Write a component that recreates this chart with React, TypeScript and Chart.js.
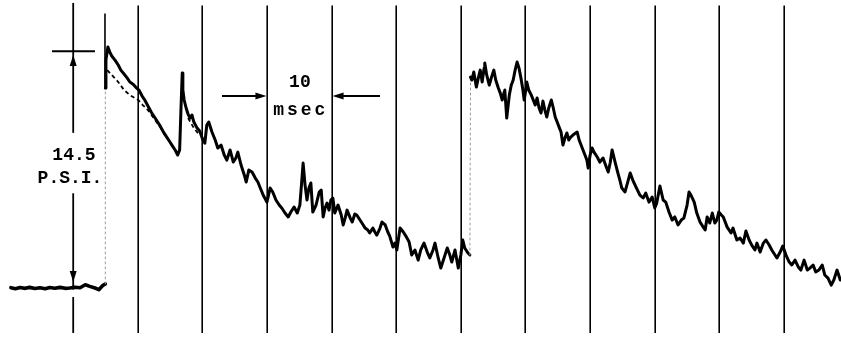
import { useEffect, useRef } from 'react';
import { Chart, registerables } from 'chart.js';

Chart.register(...registerables);

// ---- data (time in msec, pressure in P.S.I. above the baseline) ----
const baselineTimes = [-9.6, -8.9, -8.2, -7.4, -6.7, -5.9, -5.1, -4.3, -3.6, -2.8, -2.0, -1.2, -0.5, 0.3, 1.1, 1.9, 2.6, 3.4, 4.0, 4.6, 5.0];
const baselinePsi = [0.02, -0.04, 0.03, -0.02, 0.04, -0.03, 0.02, -0.04, 0.03, -0.01, 0.04, -0.02, 0.0, 0.05, 0.02, 0.2, 0.1, 0.0, -0.1, 0.15, 0.25];

const firstPulseTimes = [
  5.0, 5.1, 5.4, 5.7, 6.0, 6.5, 7.0, 7.4, 7.9, 8.4, 8.8, 9.3, 9.7, 10.2, 10.7, 11.1, 11.6, 12.1, 12.5, 13.0,
  13.5, 13.9, 14.4, 14.9, 15.3, 15.8, 16.2, 16.5, 16.7, 16.9, 17.0, 17.2, 17.5, 17.8, 18.1, 18.4, 18.7, 19.2, 19.6, 20.1,
  20.4, 20.7, 21.0, 21.5, 22.0, 22.4, 22.9, 23.4, 23.8, 24.3, 24.8, 25.2, 25.5, 26.0, 26.5, 26.8, 27.2, 27.7, 28.2, 28.6,
  29.1, 29.5, 30.0, 30.5, 30.9, 31.4, 31.9, 32.3, 32.8, 33.3, 33.7, 34.2, 34.7, 35.1, 35.4, 35.6, 35.9, 36.2, 36.5, 36.8,
  37.1, 37.6, 38.1, 38.4, 38.7, 39.0, 39.3, 39.6, 39.9, 40.2, 40.5, 41.0, 41.5, 41.8, 42.1, 42.4, 42.9, 43.2, 43.6, 43.9,
  44.4, 44.7, 45.2, 45.6, 45.9, 46.4, 46.7, 47.0, 47.5, 47.8, 48.3, 48.7, 49.0, 49.5, 49.8, 50.1, 50.6, 51.1, 51.5, 52.0,
  52.4, 52.9, 53.4, 53.8, 54.3, 54.8, 55.2, 55.7, 56.0, 56.5, 56.9, 57.4, 57.9, 58.3, 58.6, 59.1, 59.6, 60.0, 60.3, 60.6,
  61.1, 61.4,
];
const firstPulsePsi = [
  12.24, 13.95, 14.75, 14.44, 14.2, 13.95, 13.65, 13.34, 13.1, 12.85, 12.61, 12.48, 12.3, 12.12, 11.75, 11.51, 11.14, 10.77, 10.53, 10.22,
  9.91, 9.61, 9.3, 9.0, 8.75, 8.45, 8.14, 8.45, 10.89, 13.16, 12.12, 11.51, 11.02, 10.65, 10.4, 10.59, 10.16, 9.79, 9.61, 9.06,
  8.87, 9.98, 10.16, 9.55, 9.06, 8.57, 8.75, 8.14, 7.83, 8.45, 7.71, 7.96, 8.32, 7.53, 6.92, 6.49, 7.22, 7.1, 6.73, 6.49,
  6.0, 5.63, 5.26, 6.12, 5.88, 5.39, 5.08, 4.9, 4.59, 4.35, 4.65, 4.96, 4.59, 5.08, 6.61, 7.65, 6.3, 5.39, 6.12, 6.43,
  4.65, 5.08, 5.88, 6.0, 4.35, 4.9, 5.2, 4.77, 5.39, 5.51, 4.59, 5.08, 4.47, 3.86, 4.28, 4.77, 4.28, 4.04, 4.53, 4.47,
  4.16, 3.98, 3.67, 3.55, 3.37, 3.67, 3.43, 3.24, 3.67, 4.04, 3.86, 3.43, 3.18, 2.51, 2.75, 2.33, 3.67, 3.43, 3.18, 2.82,
  2.02, 2.33, 1.71, 2.33, 2.75, 2.2, 1.84, 2.33, 2.75, 1.84, 1.22, 1.84, 2.45, 2.02, 1.59, 2.33, 1.22, 2.02, 2.94, 2.45,
  2.14, 2.02,
];

const secondPulseTimes = [
  61.5, 61.7, 62.0, 62.4, 62.7, 63.0, 63.3, 63.6, 63.7, 64.0, 64.4, 64.7, 65.1, 65.4, 65.8, 66.1, 66.4, 66.7, 66.8, 67.1,
  67.5, 67.8, 68.1, 68.4, 68.7, 69.0, 69.3, 69.6, 69.8, 70.1, 70.2, 70.5, 70.9, 71.2, 71.5, 71.8, 72.1, 72.4, 72.7, 73.0,
  73.3, 73.6, 74.0, 74.3, 74.6, 74.9, 75.2, 75.5, 75.8, 76.1, 76.4, 76.7, 77.0, 77.5, 78.0, 78.3, 78.6, 78.9, 79.2, 79.5,
  79.7, 80.0, 80.3, 80.6, 81.1, 81.5, 82.0, 82.5, 82.8, 83.1, 83.4, 83.9, 84.3, 84.6, 84.9, 85.4, 85.9, 86.2, 86.6, 87.1,
  87.7, 88.2, 88.6, 89.1, 89.6, 90.0, 90.3, 90.8, 91.3, 91.7, 92.2, 92.7, 93.1, 93.6, 94.1, 94.5, 95.0, 95.3, 95.6, 96.1,
  96.5, 97.0, 97.5, 97.8, 98.1, 98.5, 98.9, 99.3, 99.6, 99.9, 100.3, 100.6, 101.2, 101.8, 102.1, 102.7, 103.2, 103.7, 104.1, 104.6,
  105.0, 105.5, 105.8, 106.3, 106.8, 107.2, 107.7, 108.1, 108.6, 108.9, 109.4, 109.8, 110.3, 110.8, 111.2, 111.7, 112.2, 112.6, 113.1, 113.6,
  114.0, 114.5, 114.9, 115.4, 115.9, 116.3, 116.8, 117.3, 117.7, 118.2, 118.7,
];
const secondPulsePsi = [
  12.91, 12.73, 13.22, 12.3, 12.85, 13.34, 12.61, 13.46, 13.77, 13.04, 12.42, 12.85, 13.34, 12.73, 12.24, 11.93, 11.51, 12.0, 12.12, 10.4,
  11.81, 12.42, 12.73, 13.34, 13.83, 13.46, 12.85, 12.12, 11.51, 12.24, 12.61, 12.12, 11.81, 11.51, 11.2, 11.63, 11.02, 10.71, 11.44, 10.89,
  10.47, 11.02, 11.51, 11.02, 10.47, 10.16, 9.85, 9.55, 8.75, 9.18, 9.49, 9.06, 9.24, 9.42, 9.55, 9.06, 8.75, 8.45, 8.14, 7.83,
  7.34, 8.14, 8.57, 8.32, 8.02, 7.71, 7.96, 7.41, 7.1, 7.65, 8.45, 7.65, 7.04, 6.61, 6.12, 5.88, 6.61, 7.04, 6.61, 6.18,
  5.69, 5.51, 5.81, 5.26, 5.57, 4.9, 5.2, 6.24, 5.39, 5.26, 4.65, 4.16, 4.35, 3.86, 4.16, 4.28, 5.08, 5.88, 5.69, 5.26,
  4.59, 4.04, 3.73, 3.55, 4.35, 3.98, 4.59, 3.98, 4.16, 4.65, 4.47, 4.35, 3.73, 3.37, 3.67, 2.94, 3.06, 2.75, 3.49, 2.94,
  2.63, 2.33, 2.75, 2.2, 2.75, 2.94, 2.63, 2.33, 2.02, 1.84, 2.2, 2.57, 2.02, 1.59, 1.41, 1.71, 1.29, 1.1, 1.71, 1.1,
  1.22, 1.41, 0.98, 1.1, 1.41, 0.8, 0.61, 0.18, 0.49, 1.1, 0.49,
];

// faint second (dashed) trace of the first pulse
const ghostTimes = [5.3, 6.0, 7.0, 7.9, 8.8, 10.1, 10.8, 11.6, 12.7, 13.5, 14.2, 15.0, 15.8, null, 17.8, 18.7, 19.6];
const ghostPsi = [13.34, 13.04, 12.61, 12.12, 11.81, 11.51, 11.2, 10.89, 10.28, 9.85, 9.36, 8.94, 8.45, null, 10.4, 9.79, 9.36];

// sweep-start mark
const sweepMarkTimes = [4.95, 4.95];
const sweepMarkPsi = [16.8, 12.2];

// 10 msec timing lines
const timingMarksMs = [10, 20, 30, 40, 50, 60, 70, 80, 90, 100, 110];
const psiSpan = 14.5;
const psiLabel = ['14.5', 'P.S.I.'];
const timeLabel = ['10', 'msec'];

const toPoints = (xs: (number | null)[], ys: (number | null)[]) =>
  xs.map((x, i) => ({ x: x as number, y: ys[i] as number }));

const X_MIN = -11.29;
const X_MAX = 118.81;
const Y_MIN = -3.12;
const Y_MAX = 17.63;

const MARK_TOP = 17.3;
const MARK_BOTTOM = -2.75;

function arrowHead(ctx: CanvasRenderingContext2D, x: number, y: number, dir: string, len = 10, half = 3.5) {
  ctx.beginPath();
  ctx.moveTo(x, y);
  if (dir === 'up') { ctx.lineTo(x - half, y + len); ctx.lineTo(x + half, y + len); }
  if (dir === 'down') { ctx.lineTo(x - half, y - len); ctx.lineTo(x + half, y - len); }
  if (dir === 'right') { ctx.lineTo(x - len, y - half); ctx.lineTo(x - len, y + half); }
  if (dir === 'left') { ctx.lineTo(x + len, y - half); ctx.lineTo(x + len, y + half); }
  ctx.closePath();
  ctx.fill();
}

function seg(ctx: CanvasRenderingContext2D, x1: number, y1: number, x2: number, y2: number) {
  ctx.beginPath();
  ctx.moveTo(x1, y1);
  ctx.lineTo(x2, y2);
  ctx.stroke();
}

const gridPlugin = {
  id: 'timingLines',
  beforeDatasetsDraw(chart: any) {
    const { ctx, scales } = chart;
    const x = scales.x, y = scales.y;
    ctx.save();
    ctx.strokeStyle = '#000';
    ctx.lineWidth = 1.6;
    timingMarksMs.forEach((t) => {
      const px = Math.round(x.getPixelForValue(t)) + 0.2;
      seg(ctx, px, y.getPixelForValue(MARK_TOP), px, y.getPixelForValue(MARK_BOTTOM));
    });
    // P.S.I. scale line at t = 0 with gap for the label
    const p0 = Math.round(x.getPixelForValue(0)) + 0.2;
    ctx.lineWidth = 1.8;
    seg(ctx, p0, y.getPixelForValue(17.45), p0, y.getPixelForValue(9.5));
    seg(ctx, p0, y.getPixelForValue(5.8), p0, y.getPixelForValue(-0.1));
    seg(ctx, p0, y.getPixelForValue(-0.55), p0, y.getPixelForValue(MARK_BOTTOM));
    ctx.restore();
  },
  afterDatasetsDraw(chart: any) {
    const { ctx, scales } = chart;
    const x = scales.x, y = scales.y;
    ctx.save();
    ctx.strokeStyle = '#000';
    ctx.fillStyle = '#000';
    const p0 = Math.round(x.getPixelForValue(0)) + 0.2;
    // reference tick at full pressure
    ctx.lineWidth = 2;
    const ty = y.getPixelForValue(psiSpan);
    seg(ctx, x.getPixelForValue(-3.25), ty, x.getPixelForValue(3.4), ty);
    arrowHead(ctx, p0, y.getPixelForValue(14.26), 'up', 11, 3.5);
    arrowHead(ctx, p0, y.getPixelForValue(0.37), 'down', 11, 3.5);

    // 10 msec arrows
    const ay = y.getPixelForValue(11.75);
    ctx.lineWidth = 2;
    seg(ctx, x.getPixelForValue(23.05), ay, x.getPixelForValue(29.0), ay);
    arrowHead(ctx, x.getPixelForValue(30) - 0.5, ay, 'right', 11, 3.5);
    seg(ctx, x.getPixelForValue(47.5), ay, x.getPixelForValue(41.0), ay);
    arrowHead(ctx, x.getPixelForValue(40) + 1, ay, 'left', 11, 3.5);

    // labels
    ctx.font = "bold 18px 'Liberation Mono'";
    ctx.textAlign = 'center';
    ctx.textBaseline = 'middle';
    (ctx as any).letterSpacing = '0px';
    ctx.fillText(psiLabel[0], x.getPixelForValue(0.15), y.getPixelForValue(8.14));
    ctx.fillText(psiLabel[1], x.getPixelForValue(-0.46), y.getPixelForValue(6.73));
    ctx.fillText(timeLabel[0], x.getPixelForValue(35.1), y.getPixelForValue(12.61));
    (ctx as any).letterSpacing = '3px';
    ctx.fillText(timeLabel[1], x.getPixelForValue(35.0) + 1.5, y.getPixelForValue(10.89));
    ctx.restore();
  },
};

export default function App() {
  const ref = useRef<HTMLCanvasElement>(null);
  useEffect(() => {
    const trace = [
      ...toPoints(baselineTimes, baselinePsi),
      ...toPoints(firstPulseTimes, firstPulsePsi),
      ...toPoints(secondPulseTimes, secondPulsePsi),
    ];
    const isJump = (c: any) => Math.abs(c.p1.parsed.y - c.p0.parsed.y) > 6;
    const chart = new Chart(ref.current as HTMLCanvasElement, {
      type: 'line',
      data: {
        datasets: [
          {
            label: 'pressure',
            data: trace,
            borderColor: '#000',
            borderWidth: 3,
            pointRadius: 0,
            tension: 0,
            borderJoinStyle: 'round',
            borderCapStyle: 'round',
            segment: {
              borderColor: (c: any) => (isJump(c) ? '#9a9a9a' : undefined),
              borderWidth: (c: any) => (isJump(c) ? 1 : c.p0.parsed.x < 5 ? 3.6 : undefined),
              borderDash: (c: any) => (isJump(c) ? [2, 3] : undefined),
            },
          } as any,
          {
            label: 'second trace',
            data: toPoints(ghostTimes, ghostPsi),
            borderColor: '#000',
            borderWidth: 1.8,
            borderDash: [4, 3],
            pointRadius: 0,
            tension: 0,
            spanGaps: false,
          },
          {
            label: 'sweep mark',
            data: toPoints(sweepMarkTimes, sweepMarkPsi),
            borderColor: '#000',
            borderWidth: 1.6,
            pointRadius: 0,
          },
        ],
      },
      options: {
        animation: false,
        responsive: false,
        maintainAspectRatio: false,
        devicePixelRatio: 1,
        layout: { padding: 0 },
        plugins: { legend: { display: false }, tooltip: { enabled: false } },
        scales: {
          x: { type: 'linear', min: X_MIN, max: X_MAX, display: false },
          y: { type: 'linear', min: Y_MIN, max: Y_MAX, display: false },
        },
      },
      plugins: [gridPlugin],
    });
    return () => chart.destroy();
  }, []);
  return (
    <div style={{ position: 'fixed', left: 0, top: 0, width: 841, height: 339, background: '#fff' }}>
      <canvas ref={ref} width={841} height={339} style={{ display: 'block' }} />
    </div>
  );
}
